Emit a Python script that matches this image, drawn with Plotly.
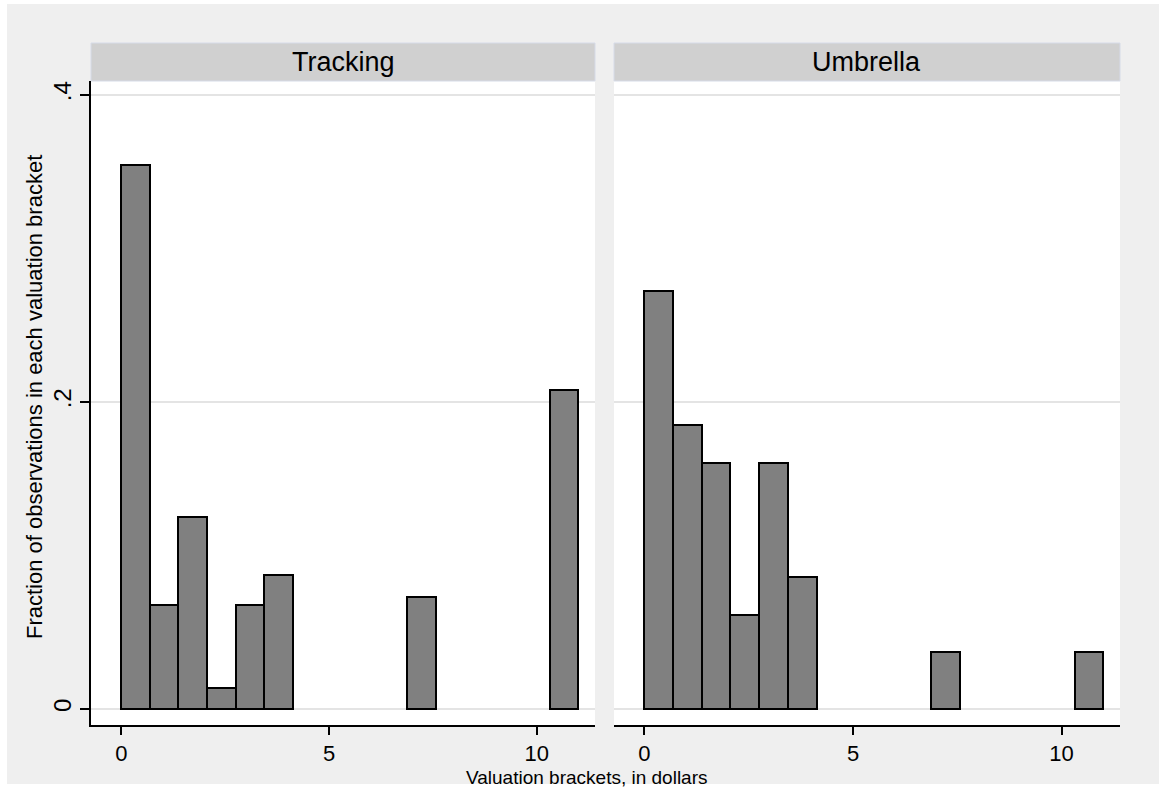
import plotly.graph_objects as go

# Data: 16 bins of width 11/16 from 0 to 11
bin_width = 11 / 16
bin_index = list(range(16))
tracking = [0.354, 0.068, 0.125, 0.014, 0.068, 0.087, 0, 0, 0, 0, 0.073, 0, 0, 0, 0, 0.208]
umbrella = [0.272, 0.185, 0.160, 0.061, 0.160, 0.086, 0, 0, 0, 0, 0.037, 0, 0, 0, 0, 0.037]
panel_titles = ["Tracking", "Umbrella"]
x_ticks = [0, 5, 10]
y_ticks = [0, 0.2, 0.4]
y_tick_labels = ["0", ".2", ".4"]

W, H = 1164, 788
L, R, T, B = 91, 44, 81, 63
pw, ph = W - L - R, H - T - B

def px_x(p):
    return (p - L) / pw

def px_y(p):
    return (H - B - p) / ph

FONT = "Arial, Liberation Sans, sans-serif"

fig = go.Figure()
for k, vals in enumerate([tracking, umbrella]):
    xs = [(i + 0.5) * bin_width for i, v in zip(bin_index, vals) if v > 0]
    ys = [v for v in vals if v > 0]
    fig.add_trace(go.Bar(
        x=xs, y=ys, width=bin_width,
        marker=dict(color="#808080", line=dict(color="black", width=2)),
        xaxis="x" if k == 0 else "x2", yaxis="y" if k == 0 else "y2",
        showlegend=False, hoverinfo="skip"))

xr = [-0.73, 11.40]
yr = [-0.0104, 0.409]
common_x = dict(range=xr, tickvals=x_ticks, ticktext=[str(t) for t in x_ticks],
                ticks="outside", ticklen=8, tickwidth=1.5, tickcolor="black",
                showline=True, linecolor="black", linewidth=1.5,
                showgrid=False, zeroline=False,
                tickfont=dict(family=FONT, size=22, color="black"))
common_y = dict(range=yr, tickvals=y_ticks, ticktext=y_tick_labels,
                showgrid=True, gridcolor="#e4e4e4", gridwidth=2, zeroline=False)

left_dom = [0, px_x(595)]
right_dom = [px_x(614), 1]

fig.update_layout(
    width=W, height=H,
    margin=dict(l=L, r=R, t=T, b=B, pad=0),
    paper_bgcolor="#efefef", plot_bgcolor="white",
    bargap=0,
    xaxis=dict(domain=left_dom, anchor="y", **common_x),
    xaxis2=dict(domain=right_dom, anchor="y2", **common_x),
    yaxis=dict(domain=[0, 1], anchor="x", showline=True, linecolor="black", linewidth=1.5,
               ticks="outside", ticklen=9, tickwidth=1.5, tickcolor="black",
               tickangle=-90, tickfont=dict(family=FONT, size=24, color="black"), **common_y),
    yaxis2=dict(domain=[0, 1], anchor="x2", showline=False, showticklabels=False, ticks="",
                **common_y),
)

shapes = []
# white outer margins
for (x0, x1, y0, y1) in [(0, 7, 0, H), (1159, W, 0, H), (0, W, 0, 4), (0, W, 784, H)]:
    shapes.append(dict(type="rect", xref="paper", yref="paper",
                       x0=px_x(x0), x1=px_x(x1), y0=px_y(y1), y1=px_y(y0),
                       fillcolor="white", line=dict(width=0), layer="below"))
# panel headers
annotations = []
for dom, title in zip([left_dom, right_dom], panel_titles):
    shapes.append(dict(type="rect", xref="paper", yref="paper",
                       x0=dom[0], x1=dom[1], y0=px_y(81), y1=px_y(43),
                       fillcolor="#d0d0d0", line=dict(color="#d6dbe8", width=1)))
    annotations.append(dict(text=title, xref="paper", yref="paper",
                            x=(dom[0] + dom[1]) / 2, y=px_y(62), xanchor="center", yanchor="middle",
                            showarrow=False, font=dict(family=FONT, size=27, color="black")))

annotations.append(dict(text="Valuation brackets, in dollars", xref="paper", yref="paper",
                        x=px_x(587), y=px_y(777), xanchor="center", yanchor="middle",
                        showarrow=False, font=dict(family=FONT, size=19, color="black")))
annotations.append(dict(text="Fraction of observations in each valuation bracket", xref="paper", yref="paper",
                        x=px_x(34), y=px_y(397), xanchor="center", yanchor="middle", textangle=-90,
                        showarrow=False, font=dict(family=FONT, size=22, color="black")))

fig.update_layout(shapes=shapes, annotations=annotations)
fig.write_html("out.html")
